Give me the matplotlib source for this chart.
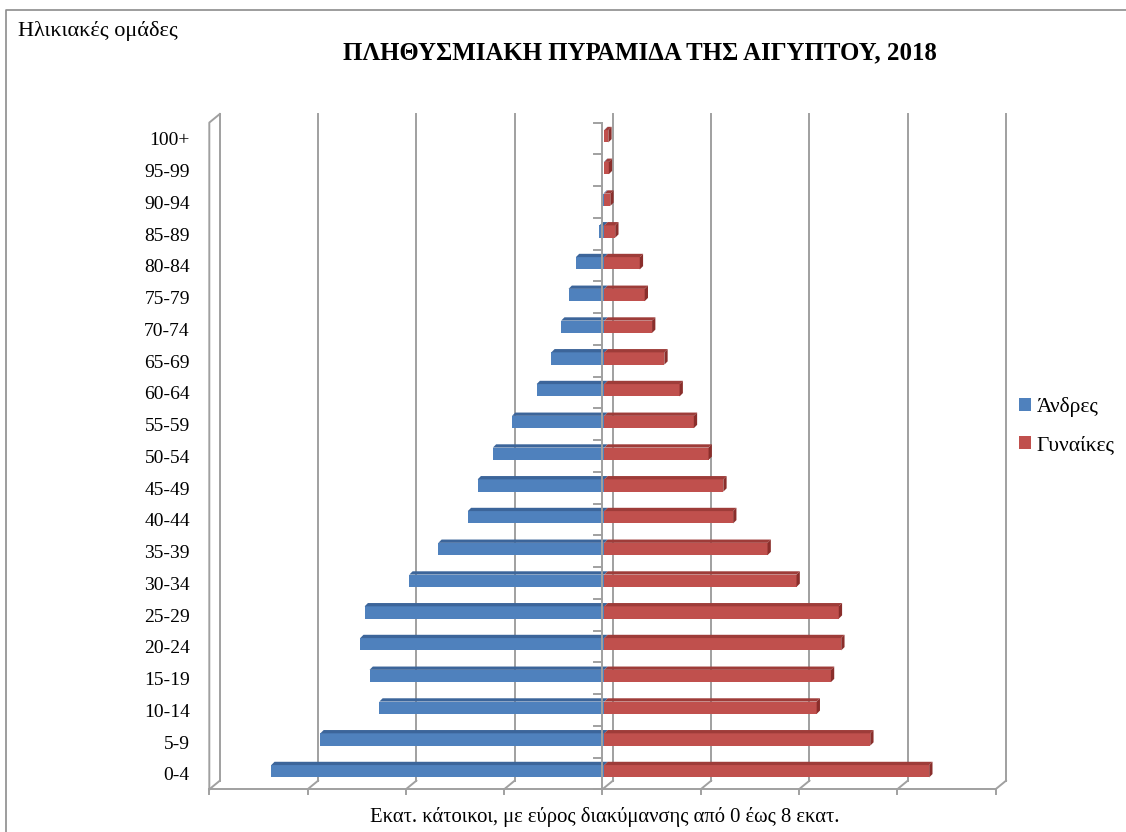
import numpy as np
import matplotlib
matplotlib.use("Agg")
import matplotlib.pyplot as plt

plt.rcParams['font.family'] = ['Liberation Serif', 'DejaVu Serif']

# Population of Egypt, 2018, millions
ages = ['0-4', '5-9', '10-14', '15-19', '20-24', '25-29', '30-34', '35-39',
        '40-44', '45-49', '50-54', '55-59', '60-64', '65-69', '70-74',
        '75-79', '80-84', '85-89', '90-94', '95-99', '100+']
men = [6.78, 5.78, 4.58, 4.78, 4.97, 4.88, 3.97, 3.38, 2.78, 2.58, 2.27,
       1.88, 1.38, 1.08, 0.88, 0.73, 0.58, 0.10, 0.02, 0.01, 0.005]
women = [6.61, 5.41, 4.32, 4.61, 4.82, 4.77, 3.91, 3.32, 2.62, 2.42, 2.12,
         1.82, 1.53, 1.22, 0.97, 0.82, 0.72, 0.22, 0.12, 0.09, 0.08]
xmax = 8
xstep = 2

W, H = 1126, 832
X0, X1 = 209.3, 995.5   # front plane, pixels
YB, YT = 789.3, 122.6

blue, blue_top = '#4F81BD', '#3C659A'
red, red_top, red_side = '#C0504D', '#9E3C39', '#8A2E2B'
grid_c = '#A0A0A0'

fig = plt.figure(figsize=(W / 100, H / 100), dpi=100)
ax = fig.add_axes([X0 / W, 1 - YB / H, (X1 - X0) / W, (YB - YT) / H])
ax.set_xlim(-xmax, xmax)
ax.set_ylim(-0.5, len(ages) - 0.5)
ax.axis('off')

sx = 2 * xmax / (X1 - X0)       # data units per pixel
sy = len(ages) / (YB - YT)

# back wall gridlines + floor
wdx, wdy = 10.5 * sx, 8.6 * sy
ybot, ytop = -0.5, len(ages) - 0.5
for g in np.arange(-xmax, xmax + xstep, xstep):
    ax.plot([g + wdx, g + wdx], [ybot + wdy, ytop + wdy], color=grid_c, lw=1.4, zorder=1, clip_on=False)
    ax.plot([g + wdx, g], [ybot + wdy, ybot], color=grid_c, lw=1.4, zorder=1, clip_on=False)
    ax.plot([g, g], [ybot, ybot - 4.7 * sy], color=grid_c, lw=1.4, zorder=1, clip_on=False)
ax.plot([-xmax, xmax], [ybot, ybot], color=grid_c, lw=1.4, zorder=1, clip_on=False)
# left side wall
ax.plot([-xmax, -xmax, -xmax + wdx], [ybot, ytop, ytop + wdy], color=grid_c, lw=1.4, zorder=1, clip_on=False)

# bars: front faces
y = np.arange(len(ages))
m = np.array(men)
w = np.array(women)
bx = 2 * sx
yc = y + 2.2 * sy
bh = 12.3 * sy
ddx, ddy = 3.3 * sx, 3.3 * sy

ax.barh(yc, -m, left=bx, height=bh, color=blue, zorder=3, label='Άνδρες')
ax.barh(yc, w, left=bx, height=bh, color=red, zorder=5, label='Γυναίκες')

# bars: top and side faces
for i in range(len(ages)):
    t = yc[i] + bh / 2
    b = yc[i] - bh / 2
    ax.fill([bx - m[i], bx, bx + ddx, bx - m[i] + ddx], [t, t, t + ddy, t + ddy],
            color=blue_top, lw=0, zorder=3)
    ax.fill([bx, bx + w[i], bx + w[i] + ddx, bx + ddx], [t, t, t + ddy, t + ddy],
            color=red_top, lw=0, zorder=5)
    ax.fill([bx + w[i], bx + w[i], bx + w[i] + ddx, bx + w[i] + ddx], [b, t, t + ddy, b + ddy],
            color=red_side, lw=0, zorder=5)

# category axis
ax.plot([0, 0], [ybot, ytop], color=grid_c, lw=1.4, zorder=6, clip_on=False)
for k in range(len(ages) + 1):
    ax.plot([-8 * sx, 0], [k - 0.5, k - 0.5], color=grid_c, lw=1.4, zorder=6, clip_on=False)
for i, lab in enumerate(ages):
    ax.text(-xmax - 19.5 * sx, i - 2.5 * sy, lab, ha='right', va='center', fontsize=14)

# texts
fig.text(18 / W, 1 - 31 / H, 'Ηλικιακές ομάδες', ha='left', va='center', fontsize=16)
fig.text(640 / W, 1 - 53 / H, 'ΠΛΗΘΥΣΜΙΑΚΗ ΠΥΡΑΜΙΔΑ ΤΗΣ ΑΙΓΥΠΤΟΥ, 2018',
         ha='center', va='center', fontsize=17.9, fontweight='bold')
fig.text(605 / W, 1 - 817 / H, 'Εκατ. κάτοικοι, με εύρος διακύμανσης από 0 έως 8 εκατ.',
         ha='center', va='center', fontsize=14.9)

fig.legend(loc='center left', bbox_to_anchor=(1019 / W, 1 - 426 / H), frameon=False,
           fontsize=15.5, handlelength=0.56, handleheight=0.56, handletextpad=0.25,
           labelspacing=0.85, borderaxespad=0, borderpad=0)

# chart border
fig.add_artist(plt.Line2D([6 / W, 6 / W, 1], [0, 1 - 10 / H, 1 - 10 / H], color='#8C8C8C', lw=1.2))

fig.savefig('out.png', dpi=100)
